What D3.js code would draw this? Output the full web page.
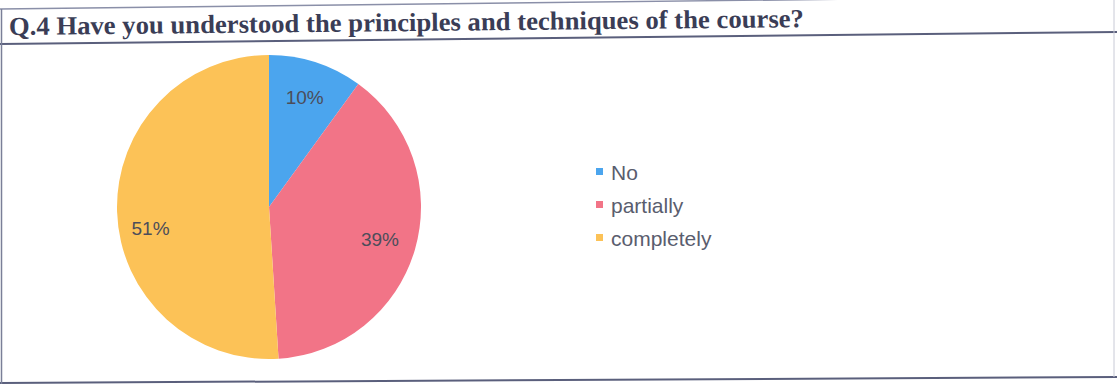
<!DOCTYPE html>
<html>
<head>
<meta charset="utf-8">
<script src="https://cdn.jsdelivr.net/npm/d3@7"></script>
<style>
  body { margin: 0; background: #fff; }
  svg { display: block; }
</style>
</head>
<body>
<svg width="1117" height="384"></svg>
<script>
const width = 1117
const height = 384

// answers
const categories = ["No", "partially", "completely"]
const values = [10, 39, 51]
const colors = ["#4ba5ee", "#f27487", "#fcc257"]

const svg = d3.select("svg")

// frame of the scanned table (the scan is slightly skewed)
const frame = svg.append("g").attr("stroke", "#5a5f7c").attr("fill", "none")
frame.append("line").attr("x1", 0).attr("y1", 9).attr("x2", 1117).attr("y2", -4)
  .attr("stroke-width", 1.5).attr("stroke", "#8a8fa8")
frame.append("line").attr("x1", 0).attr("y1", 44).attr("x2", 1117).attr("y2", 32)
  .attr("stroke-width", 2)
frame.append("line").attr("x1", 0).attr("y1", 383).attr("x2", 1117).attr("y2", 377)
  .attr("stroke-width", 2)
frame.append("line").attr("x1", 1.5).attr("y1", 9).attr("x2", 1.5).attr("y2", 384)
  .attr("stroke-width", 1.5).attr("stroke", "#7a7f98")
frame.append("line").attr("x1", 1114).attr("y1", 0).attr("x2", 1114).attr("y2", 377)
  .attr("stroke-width", 1).attr("stroke", "#c8cad6")

svg.append("text")
  .attr("x", 9).attr("y", 35)
  .attr("transform", "rotate(-0.57 9 35)")
  .attr("textLength", 795)
  .attr("lengthAdjust", "spacingAndGlyphs")
  .style("font-family", "'Liberation Serif', 'Times New Roman', serif")
  .style("font-weight", "bold")
  .style("font-size", "26px")
  .style("fill", "#3a3d56")
  .text("Q.4 Have you understood the principles and techniques of the course?")

// pie
const cx = 269, cy = 207, r = 152
const pie = d3.pie().sort(null).value(d => d)
const arc = d3.arc().innerRadius(0).outerRadius(r)
const labelArc = d3.arc().innerRadius(r * 0.76).outerRadius(r * 0.76)
// excel's "best fit" drops the big slice's label a bit
const labelShift = [[0, 0], [0, 0], [-3, 18]]

const g = svg.append("g").attr("transform", `translate(${cx},${cy})`)
const arcs = pie(values)

g.selectAll("path")
  .data(arcs)
  .enter()
  .append("path")
  .attr("d", arc)
  .attr("fill", (d, i) => colors[i])

g.selectAll("text")
  .data(arcs)
  .enter()
  .append("text")
  .attr("transform", (d, i) => {
    const c = labelArc.centroid(d)
    return `translate(${c[0] + labelShift[i][0]},${c[1] + labelShift[i][1]})`
  })
  .attr("text-anchor", "middle")
  .attr("dy", "0.36em")
  .style("font-family", "'Liberation Sans', Arial, sans-serif")
  .style("font-size", "19px")
  .style("fill", "#4c4d5a")
  .text(d => d.data + "%")

// legend
const legend = svg.append("g").attr("transform", "translate(596,172)")
const row = legend.selectAll("g")
  .data(categories)
  .enter()
  .append("g")
  .attr("transform", (d, i) => `translate(0,${i * 33})`)

row.append("rect")
  .attr("x", 0).attr("y", -4)
  .attr("width", 7).attr("height", 7)
  .attr("fill", (d, i) => colors[i])

row.append("text")
  .attr("x", 15)
  .attr("dy", "0.36em")
  .style("font-family", "'Liberation Sans', Arial, sans-serif")
  .style("font-size", "21px")
  .style("fill", "#5a5d6e")
  .text(d => d)
</script>
</body>
</html>
